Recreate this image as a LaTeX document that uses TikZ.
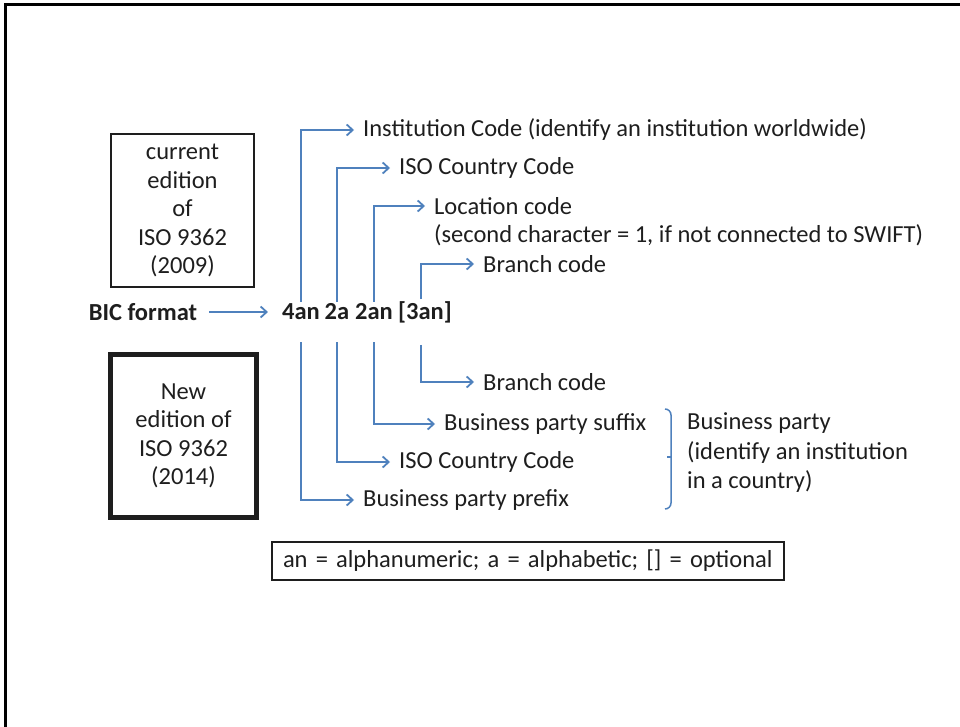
\documentclass[tikz,border=0pt]{standalone}
\usepackage{fontspec}
\setmainfont{Carlito}
\usepackage{tikz}
\usetikzlibrary{arrows.meta, positioning}
\definecolor{cLine}{RGB}{79,129,189}
\definecolor{cText}{RGB}{30,30,30}
\newcommand{\slidefont}{\fontsize{24.5}{28.5}\selectfont}
\tikzset{
	lbl/.style   ={anchor=west, inner xsep=9pt, inner ysep=2pt, text=cText},
	code/.style  ={font=\slidefont\bfseries, inner sep=2pt, text=cText},
	edbox/.style ={draw=cText, align=center, text=cText},
	conn/.style  ={draw=cLine, line width=1.8pt, -{Straight Barb[length=6pt, width=11pt]}},
	down/.style  ={conn, shorten <=20pt},
}

\begin{document}
\begin{tikzpicture}[x=1pt, y=-1pt, font=\slidefont]
	\useasboundingbox (0,0) rectangle (960,727);
	\draw[line width=3pt] (5,727) -- (5,5) -- (960,5);
	% edition boxes
	\node[edbox, line width=2pt, minimum width=143pt, minimum height=153pt] (cur) at (182.5,210.5) {current\\edition\\of\\ISO 9362\\(2009)};
	\node[edbox, line width=5pt, minimum width=146pt, minimum height=163pt] (new) at (183.5,436) {New\\edition of\\ISO 9362\\(2014)};
	% format line
	\node[code] (bic) at (143,312) {BIC format};
	\node[code] (f4) at (301,312) {4an};
	\node[code] (f2) at (337,312) {2a};
	\node[code] (f2an) at (374,312) {2an};
	\node[code] (f3) at (425,312) {[3an]};
	\draw[conn, shorten <=10pt, shorten >=12pt] (bic.east) -- (f4.west);
	% current edition meaning
	\node[lbl] (inst) at (354,130) {Institution Code (identify an institution worldwide)};
	\node[lbl] (iso1) at (390,168) {ISO Country Code};
	\node[lbl] (loc) at (425,206) {Location code};
	\node[lbl] (locnote) at (425,235) {(second character = 1, if not connected to SWIFT)};
	\node[lbl] (br1) at (474,264) {Branch code};
	\draw[conn] (f4.north) |- (inst.west);
	\draw[conn] (f2.north) |- (iso1.west);
	\draw[conn] (f2an.north) |- (loc.west);
	\draw[conn] ([xshift=-4pt]f3.north) |- (br1.west);
	% new edition meaning
	\node[lbl] (br2) at (474,382) {Branch code};
	\node[lbl] (suf) at (435,424) {Business party suffix};
	\node[lbl] (iso2) at (390,462) {ISO Country Code};
	\node[lbl] (pre) at (354,500) {Business party prefix};
	\draw[down] ([xshift=-4pt]f3.south) |- (br2.west);
	\draw[down] (f2an.south) |- (suf.west);
	\draw[down] (f2.south) |- (iso2.west);
	\draw[down] (f4.south) |- (pre.west);
	% business party brace
	\draw[cLine, line width=1.5pt] (665,409) to[out=0, in=90] (671,415) -- (671,503) to[out=-90, in=0] (665,509);
	\draw[cLine, line width=1.5pt] (667,457) -- (671,457);
	\node[lbl, align=left, font=\fontsize{24.5}{29.5}\selectfont] (party) at (678,453) {Business party\\(identify an institution\\in a country)};
	% legend
	\node[draw=cText, line width=2pt, text=cText, anchor=west, text width=490pt, inner xsep=11pt, minimum height=38pt, align=left] (key) at (271,561) {\mbox{an = alphanumeric; a = alphabetic; [] = optional}};
\end{tikzpicture}
\end{document}
